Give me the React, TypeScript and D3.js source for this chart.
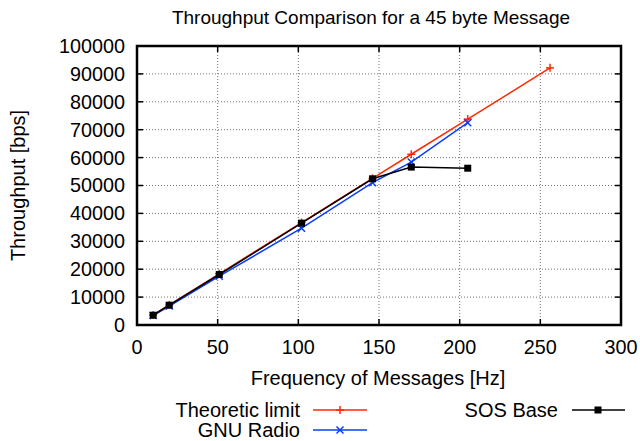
import React from "react";
import * as d3 from "d3";

const title = "Throughput Comparison for a 45 byte Message";
const xLabel = "Frequency of Messages [Hz]";
const yLabel = "Throughput [bps]";

const xTicks = [0, 50, 100, 150, 200, 250, 300];
const yTicks = [0, 10000, 20000, 30000, 40000, 50000, 60000, 70000, 80000, 90000, 100000];

const theoFreq = [10, 20, 51, 102, 146, 170, 205, 256];
const theoVals = [3600, 7200, 18360, 36720, 52560, 61200, 73800, 92160];

const gnuFreq = [10, 20, 51, 102, 146, 170, 205];
const gnuVals = [3400, 6800, 17500, 34700, 51000, 58400, 72500];

const sosFreq = [10, 20, 51, 102, 146, 170, 205];
const sosVals = [3500, 7100, 18100, 36500, 52400, 56600, 56200];

const FONT = "'Liberation Sans', Arial, Helvetica, sans-serif";

export default function App() {
  const W = 640, H = 441;
  const L = 137, R = 621, T = 46, B = 325;
  const x = d3.scaleLinear().domain([0, 300]).range([L, R]);
  const y = d3.scaleLinear().domain([0, 100000]).range([B, T]);
  const line = d3.line<[number, number]>().x(d => x(d[0])).y(d => y(d[1]));
  const zip = (a: number[], b: number[]) => a.map((v, i) => [v, b[i]] as [number, number]);

  const theo = zip(theoFreq, theoVals);
  const gnu = zip(gnuFreq, gnuVals);
  const sos = zip(sosFreq, sosVals);

  const plus = (cx: number, cy: number, c: string, k: string) => (
    <g key={k} stroke={c} strokeWidth={1.5}>
      <line x1={cx - 4} x2={cx + 4} y1={cy} y2={cy} />
      <line x1={cx} x2={cx} y1={cy - 4} y2={cy + 4} />
    </g>
  );
  const cross = (cx: number, cy: number, c: string, k: string) => (
    <g key={k} stroke={c} strokeWidth={1.5}>
      <line x1={cx - 3.5} x2={cx + 3.5} y1={cy - 3.5} y2={cy + 3.5} />
      <line x1={cx - 3.5} x2={cx + 3.5} y1={cy + 3.5} y2={cy - 3.5} />
    </g>
  );
  const box = (cx: number, cy: number, c: string, k: string) => (
    <rect key={k} x={cx - 3.5} y={cy - 3.5} width={7} height={7} fill={c} />
  );

  const red = "#ff2a00";
  const blue = "#0a3cff";
  const black = "#000000";

  return (
    <svg width={W} height={H} style={{ position: "absolute", left: 0, top: 0, fontFamily: FONT }}>
      <rect width={W} height={H} fill="white" />
      {/* grid */}
      <g stroke="#000" strokeWidth={1} strokeDasharray="1,2" opacity={0.55}>
        {xTicks.slice(1, -1).map(t => (
          <line key={"gx" + t} x1={x(t)} x2={x(t)} y1={T} y2={B} />
        ))}
        {yTicks.slice(1, -1).map(t => (
          <line key={"gy" + t} x1={L} x2={R} y1={y(t)} y2={y(t)} />
        ))}
      </g>
      {/* ticks */}
      <g stroke="#000" strokeWidth={1.5}>
        {xTicks.map(t => (
          <g key={"tx" + t}>
            <line x1={x(t)} x2={x(t)} y1={B} y2={B - 6} />
            <line x1={x(t)} x2={x(t)} y1={T} y2={T + 6} />
          </g>
        ))}
        {yTicks.map(t => (
          <g key={"ty" + t}>
            <line x1={L} x2={L + 6} y1={y(t)} y2={y(t)} />
            <line x1={R} x2={R - 6} y1={y(t)} y2={y(t)} />
          </g>
        ))}
      </g>
      {/* tick labels */}
      <g fontSize={19.8} fill="#000">
        {xTicks.map(t => (
          <text key={"lx" + t} x={x(t)} y={B + 29} textAnchor="middle">{t}</text>
        ))}
        {yTicks.map(t => (
          <text key={"ly" + t} x={L - 12} y={y(t)} dy="0.35em" textAnchor="end">{t}</text>
        ))}
      </g>
      {/* series */}
      <path d={line(theo) || ""} fill="none" stroke={red} strokeWidth={1.5} />
      {theo.map((d, i) => plus(x(d[0]), y(d[1]), red, "tp" + i))}
      <path d={line(gnu) || ""} fill="none" stroke={blue} strokeWidth={1.5} />
      {gnu.map((d, i) => cross(x(d[0]), y(d[1]), blue, "gp" + i))}
      <path d={line(sos) || ""} fill="none" stroke={black} strokeWidth={1.5} />
      {sos.map((d, i) => box(x(d[0]), y(d[1]), black, "sp" + i))}
      {/* frame */}
      <rect x={L} y={T} width={R - L} height={B - T} fill="none" stroke="#000" strokeWidth={2.5} />
      {/* titles */}
      <text x={371} y={24} textAnchor="middle" fontSize={19}>{title}</text>
      <text x={378} y={385} textAnchor="middle" fontSize={20}>{xLabel}</text>
      <text transform={`translate(25,${(T + B) / 2}) rotate(-90)`} textAnchor="middle" fontSize={20}>{yLabel}</text>
      {/* legend */}
      <g fontSize={20}>
        <text x={300} y={417} textAnchor="end">Theoretic limit</text>
        <line x1={313} x2={367} y1={410} y2={410} stroke={red} strokeWidth={1.5} />
        {plus(340, 410, red, "lp")}
        <text x={300} y={437} textAnchor="end">GNU Radio</text>
        <line x1={313} x2={367} y1={430} y2={430} stroke={blue} strokeWidth={1.5} />
        {cross(340, 430, blue, "lg")}
        <text x={558} y={417} textAnchor="end">SOS Base</text>
        <line x1={572} x2={625} y1={410} y2={410} stroke={black} strokeWidth={1.5} />
        {box(598, 410, black, "ls")}
      </g>
    </svg>
  );
}
